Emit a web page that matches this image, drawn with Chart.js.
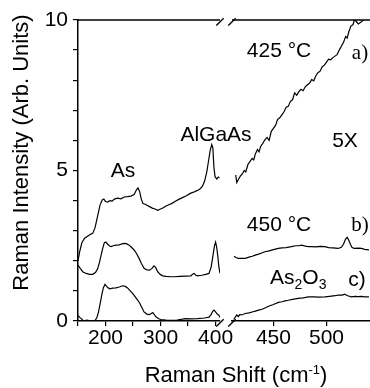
<!DOCTYPE html>
<html><head><meta charset="utf-8">
<script src="https://cdn.jsdelivr.net/npm/chart.js@4.4.1/dist/chart.umd.min.js"></script>
<style>html,body{margin:0;padding:0;background:#fff;}#wrap{width:370px;height:388px;}</style>
</head><body><div id="wrap"><canvas id="c" width="370" height="388"></canvas></div>
<script>
// ---- data: [Raman shift (cm-1), intensity (arb. units)] ----
const curveA_left = [[150,2.0],[153,2.3],[157,2.6],[162,2.75],[170,2.85],[177,2.92],[181,3.1],[184,3.35],[187,3.6],[190,3.85],[194,4.02],[197,4.05],[200,3.97],[204,3.95],[208,4.0],[212,3.98],[216,4.05],[222,4.08],[228,4.06],[234,4.12],[240,4.13],[246,4.15],[252,4.2],[256,4.35],[259,4.42],[262,4.3],[265,4.05],[268,3.9],[272,3.88],[276,3.84],[280,3.8],[285,3.75],[290,3.72],[295,3.68],[300,3.72],[305,3.76],[310,3.82],[315,3.86],[320,3.9],[327,3.98],[333,4.04],[340,4.1],[347,4.16],[354,4.24],[360,4.28],[366,4.33],[371,4.38],[376,4.47],[380,4.65],[384,4.95],[387,5.3],[390,5.65],[393,5.86],[395,5.75],[397,5.1],[399,4.8],[402,4.72],[405,4.78],[407,4.76]];
const curveA_right = [[414.5,4.85],[415.5,4.6],[417,4.7],[419,4.82],[421,4.9],[422.5,5.0],[424,4.95],[426,5.2],[428,5.3],[430,5.4],[431.5,5.35],[433,5.55],[435,5.7],[436.5,5.62],[438,5.8],[440,5.9],[442,6.02],[444,6.1],[446,6.0],[448,6.3],[450,6.4],[452,6.5],[454,6.7],[456,6.75],[458,6.85],[460,6.95],[462,7.1],[464,7.13],[466,7.3],[468,7.35],[470,7.58],[472,7.5],[474,7.62],[476,7.7],[478,7.65],[480,7.78],[482,7.85],[484,7.9],[486,8.02],[488,7.98],[490,8.15],[492,8.25],[494,8.3],[496,8.45],[498,8.5],[500,8.6],[502,8.7],[504,8.68],[506,8.75],[508,8.8],[510,8.85],[512,9.0],[514,9.13],[516,9.25],[518,9.45],[519.5,9.4],[521,9.6],[523,9.8],[525,9.85],[526.5,10.02],[528,9.95],[530,9.87],[532,9.92],[534,9.97],[536,10.05],[538,10.2],[540,10.3],[541,10.35]];
const curveB_left = [[150,1.86],[154,1.75],[159,1.63],[165,1.58],[171,1.55],[177,1.55],[182,1.62],[186,1.75],[189,1.95],[192,2.19],[195,2.42],[198,2.61],[201,2.62],[204,2.55],[207,2.5],[210,2.47],[214,2.5],[219,2.52],[225,2.53],[230,2.56],[234,2.58],[238,2.57],[243,2.52],[247,2.45],[252,2.36],[256,2.25],[261,2.08],[265,1.92],[270,1.75],[275,1.7],[280,1.69],[284,1.74],[288,1.83],[291,1.78],[295,1.63],[300,1.54],[304,1.5],[310,1.48],[318,1.47],[325,1.47],[335,1.48],[345,1.49],[355,1.5],[358,1.55],[361,1.58],[364,1.52],[367,1.5],[375,1.52],[382,1.55],[388,1.58],[392,1.8],[395,2.15],[398,2.5],[400,2.62],[402,2.45],[404,2.15],[406,1.8],[408,1.58]];
const curveB_right = [[413,2.15],[415,2.1],[417,2.08],[420,2.08],[423.5,2.08],[427,2.12],[430,2.15],[433,2.19],[436,2.22],[439,2.26],[442,2.3],[446,2.33],[450,2.37],[454.7,2.41],[458,2.43],[462,2.44],[467,2.47],[471,2.5],[474,2.5],[476.6,2.52],[480,2.49],[483,2.47],[486,2.47],[490,2.46],[494,2.48],[498.5,2.47],[502,2.44],[506,2.43],[511,2.41],[514,2.45],[516,2.55],[518,2.72],[519.5,2.78],[521,2.68],[522.5,2.55],[524,2.45],[526,2.41],[530,2.42],[533,2.41],[536,2.38],[540,2.36]];
const curveC_left = [[150,0.19],[153,0.12],[156,0.08],[159,0.02],[162,0.0],[165,0.03],[168,0.02],[174,0.0],[180,0.0],[184,0.1],[187,0.28],[190,0.55],[193,0.85],[196,1.1],[199,1.22],[202,1.15],[205,1.1],[208,1.07],[213,1.09],[219,1.1],[225,1.13],[231,1.17],[236,1.15],[240,1.1],[245,1.0],[250,0.9],[254,0.8],[258,0.7],[262,0.6],[266,0.45],[270,0.3],[275,0.23],[280,0.21],[283,0.25],[286,0.28],[289,0.2],[292,0.13],[296,0.08],[300,0.05],[310,0.03],[320,0.02],[330,0.03],[340,0.06],[345,0.08],[355,0.07],[367,0.08],[380,0.1],[388,0.13],[392,0.22],[395,0.33],[397,0.36],[400,0.3],[403,0.23],[406,0.19],[408,0.12]];
const curveC_right = [[412.5,0.05],[414,0.12],[415.5,0.2],[417,0.15],[418.5,0.22],[420,0.2],[423.5,0.25],[427,0.27],[430,0.3],[433,0.33],[436,0.36],[440,0.4],[443,0.45],[446,0.5],[450,0.55],[454.7,0.62],[458,0.64],[461,0.67],[464,0.69],[468,0.72],[473.4,0.75],[478,0.77],[483,0.8],[488,0.8],[493,0.79],[498.5,0.8],[503,0.82],[508,0.84],[511,0.86],[515,0.86],[517,0.89],[520,0.84],[523.5,0.8],[527,0.82],[530,0.81],[533,0.82],[536,0.8],[540,0.8]];

// ---- axes ----
const yTicks = [0,1,2,3,4,5,6,7,8,9,10];
const yTickLabels = [0,5,10];
const xLeftTicks = [150,200,250,300,350,400];
const xLeftTickLabels = [200,300,400];
const xRightTicks = [450,500];
const xRightTickLabels = [450,500];
const xLeftRange = [150,408];
const xRightRange = [411,541];
const yRange = [0,10];

const SANS = "'Liberation Sans', Arial, sans-serif";
const SERIF = "'Liberation Serif', 'Times New Roman', serif";
const FS = 21;

function toPts(arr){ return arr.map(p => ({x:p[0], y:p[1]})); }
function ds(arr, xid){
  return {data: toPts(arr), xAxisID: xid, yAxisID: 'y', borderColor: '#000', borderWidth: 1.2,
          pointRadius: 0, tension: 0, fill: false};
}
function setTicks(list){ return s => { s.ticks = list.map(v => ({value: v})); }; }
function labelCb(list){ return v => list.includes(v) ? String(v) : ''; }

const gridOpt = {display: true, drawOnChartArea: false, drawTicks: true, tickLength: 5, color: '#000', lineWidth: 1.2};
const borderOpt = {display: true, color: '#000', width: 1.5};

function xAxis(range, ticks, labels, weight, sw){
  return {type: 'linear', axis: 'x', position: 'bottom', stack: 'xs', stackWeight: sw, weight: weight,
    min: range[0], max: range[1],
    afterBuildTicks: setTicks(ticks),
    afterFit: s => { s.height = 67; s.paddingLeft = 0; s.paddingRight = 0; },
    ticks: {callback: labelCb(labels), color: '#000', font: {family: SANS, size: FS}, padding: 0, maxRotation: 0, autoSkip: false},
    grid: gridOpt, border: borderOpt};
}

const rich = (ctx, parts, x, y, align) => {
  let w = 0;
  parts.forEach(p => { ctx.font = (p.size||FS) + 'px ' + (p.family||SANS); w += ctx.measureText(p.t).width; });
  let cx = align === 'center' ? x - w/2 : x;
  parts.forEach(p => {
    ctx.font = (p.size||FS) + 'px ' + (p.family||SANS);
    ctx.fillText(p.t, cx, y + (p.dy||0));
    cx += ctx.measureText(p.t).width;
  });
};

const decor = {
  id: 'decor',
  afterDraw(chart){
    const ctx = chart.ctx, a = chart.chartArea;
    const x1 = chart.scales.x1, x2 = chart.scales.x2;
    ctx.save();
    ctx.strokeStyle = '#000'; ctx.lineWidth = 1.5;
    ctx.beginPath();
    ctx.moveTo(a.left, a.top); ctx.lineTo(x1.right, a.top);
    ctx.moveTo(x2.left, a.top); ctx.lineTo(a.right, a.top);
    ctx.stroke();
    ctx.lineWidth = 1.3;
    ctx.beginPath();
    [a.top, a.bottom].forEach(yy => {
      [x1.right, x2.left].forEach(cx => { ctx.moveTo(cx-3.7, yy+5.5); ctx.lineTo(cx+3.7, yy-1.8); });
    });
    ctx.stroke();
    ctx.fillStyle = '#000';
    ctx.textBaseline = 'alphabetic';
    ctx.textAlign = 'left';
    // annotations
    rich(ctx, [{t:'As'}], 123, 177, 'center');
    rich(ctx, [{t:'AlGaAs'}], 216, 141, 'center');
    rich(ctx, [{t:'425 °C'}], 279, 57, 'center');
    rich(ctx, [{t:'a)', family: SERIF}], 360, 59, 'center');
    rich(ctx, [{t:'5X'}], 345, 147, 'center');
    rich(ctx, [{t:'450 °C'}], 279, 231, 'center');
    rich(ctx, [{t:'b)', family: SERIF}], 360, 231, 'center');
    rich(ctx, [{t:'As'},{t:'2', size:14, dy:5},{t:'O'},{t:'3', size:14, dy:5}], 270, 284, 'left');
    rich(ctx, [{t:'c)'}], 357, 286, 'center');
    // axis titles
    rich(ctx, [{t:'Raman Shift (cm', size:22},{t:'-1', size:13, dy:-8},{t:')', size:22}], 236, 382, 'center');
    ctx.translate(28, 152.5);
    ctx.rotate(-Math.PI/2);
    rich(ctx, [{t:'Raman Intensity (Arb. Units)', size:22}], 0, 0, 'center');
    ctx.restore();
  }
};

new Chart(document.getElementById('c'), {
  type: 'line',
  data: {datasets: [
    ds(curveA_left,'x1'), ds(curveA_right,'x2'),
    ds(curveB_left,'x1'), ds(curveB_right,'x2'),
    ds(curveC_left,'x1'), ds(curveC_right,'x2')
  ]},
  options: {
    responsive: false, animation: false, devicePixelRatio: 1,
    layout: {padding: {left: 0, right: 0, top: 20, bottom: 0}},
    plugins: {legend: {display: false}, tooltip: {enabled: false}},
    scales: {
      x1: xAxis(xLeftRange, xLeftTicks, xLeftTickLabels, 0, 142),
      xgap: {type: 'linear', axis: 'x', position: 'bottom', stack: 'xs', stackWeight: 12, weight: 1,
             min: 0, max: 1, afterFit: s => { s.height = 67; s.paddingLeft = 0; s.paddingRight = 0; },
             ticks: {display: false}, grid: {display: false}, border: {display: false}},
      x2: xAxis(xRightRange, xRightTicks, xRightTickLabels, 2, 138),
      y: {type: 'linear', position: 'left', min: yRange[0], max: yRange[1],
          afterBuildTicks: setTicks(yTicks),
          afterFit: s => { s.width = 78; },
          ticks: {callback: labelCb(yTickLabels), color: '#000', font: {family: SANS, size: FS}, padding: 5, autoSkip: false},
          grid: gridOpt, border: borderOpt}
    }
  },
  plugins: [decor]
});
</script></body></html>
